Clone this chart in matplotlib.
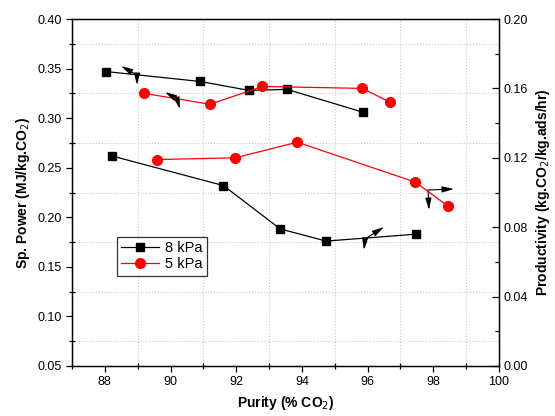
import numpy as np
import matplotlib.pyplot as plt
from matplotlib.ticker import MultipleLocator

plt.rcParams['font.family'] = ['Liberation Sans', 'DejaVu Sans']
plt.rcParams['font.size'] = 9

# Sp. Power (linke Achse)
pur_8_pow = [88.04, 90.90, 92.39, 93.55, 95.86]
pow_8 = [0.347, 0.337, 0.328, 0.329, 0.306]
pur_5_pow = [89.20, 91.20, 92.80, 95.84, 96.69]
pow_5 = [0.325, 0.314, 0.332, 0.330, 0.316]

# Productivity (rechte Achse)
pur_8_prod = [88.23, 91.61, 93.34, 94.74, 97.48]
prod_8 = [0.121, 0.104, 0.079, 0.072, 0.076]
pur_5_prod = [89.60, 91.97, 93.86, 97.45, 98.46]
prod_5 = [0.119, 0.120, 0.129, 0.106, 0.092]

fig = plt.figure(figsize=(5.55, 4.16), dpi=100)
ax = fig.add_axes([0.1297, 0.1202, 0.7693, 0.8341])
ax2 = ax.twinx()

ax.plot(pur_8_pow, pow_8, 'k-', marker='s', ms=6, lw=0.9, label='8 kPa')
ax.plot(pur_5_pow, pow_5, 'r-', marker='o', ms=7, lw=0.9, label='5 kPa')
ax2.plot(pur_8_prod, prod_8, 'k-', marker='s', ms=6, lw=0.9)
ax2.plot(pur_5_prod, prod_5, 'r-', marker='o', ms=7, lw=0.9)

ax.set_xlim(87, 100)
ax.set_ylim(0.05, 0.40)
ax2.set_ylim(0.0, 0.20)

ax.xaxis.set_major_locator(MultipleLocator(2))
ax.xaxis.set_minor_locator(MultipleLocator(1))
ax.yaxis.set_major_locator(MultipleLocator(0.05))
ax.yaxis.set_minor_locator(MultipleLocator(0.025))
ax2.yaxis.set_major_locator(MultipleLocator(0.04))
ax2.yaxis.set_minor_locator(MultipleLocator(0.02))
ax.set_xticks([88, 90, 92, 94, 96, 98, 100])
ax.set_xticklabels(['88', '90', '92', '94', '96', '98', '100'])
ax.set_yticks(np.arange(0.05, 0.401, 0.05))
ax.set_yticklabels(['%.2f' % v for v in np.arange(0.05, 0.401, 0.05)])
ax2.set_yticks(np.arange(0.0, 0.201, 0.04))
ax2.set_yticklabels(['%.2f' % v for v in np.arange(0.0, 0.201, 0.04)])

# Gitter auf den Nebenticks
ax.grid(which='minor', color='#c8c8c8', ls=':', lw=0.8)
ax.set_axisbelow(True)

ax.tick_params(which='major', direction='out', length=4, width=0.9, top=False)
ax.tick_params(which='minor', direction='inout', length=4, width=0.9, top=False)
ax2.tick_params(which='major', direction='in', length=5, width=0.9)
ax2.tick_params(which='minor', direction='in', length=3, width=0.9)
for sp in ax.spines.values():
    sp.set_linewidth(1.0)

ax.set_xlabel('Purity (% CO$_2$)', fontweight='bold', fontsize=10)
ax.set_ylabel('Sp. Power (MJ/kg.CO$_2$)', fontweight='bold', fontsize=10)
ax2.set_ylabel('Productivity (kg.CO$_2$/kg.ads/hr)', fontweight='bold', fontsize=10)

# Achsen-Pfeile
arr = dict(arrowstyle='-|>,head_width=0.18,head_length=0.7', color='k',
           lw=0.8, mutation_scale=10, shrinkA=0, shrinkB=0)
def pointer(a, x, y, dx1, dy1, dx2, dy2):
    a.annotate('', xy=(dx1, dy1), xytext=(x, y), xycoords='figure pixels',
               textcoords='figure pixels', arrowprops=arr)
    a.annotate('', xy=(dx2, dy2), xytext=(x, y), xycoords='figure pixels',
               textcoords='figure pixels', arrowprops=arr)

H = 416
pointer(ax, 137, H - 75, 121, H - 66, 137, H - 85)
pointer(ax, 177, H - 99, 165, H - 92, 180, H - 109)
pointer(ax, 365, H - 239, 384, H - 227, 364, H - 250)
pointer(ax, 428, H - 190, 454, H - 189, 429, H - 210)

leg = ax.legend(loc='upper left', bbox_to_anchor=(0.105, 0.372), fontsize=10.5,
                frameon=True, fancybox=False, edgecolor='k', handlelength=2.6,
                borderpad=0.3, labelspacing=0.15, handletextpad=0.4,
                borderaxespad=0)
leg.get_frame().set_linewidth(0.9)

fig.savefig('out.png', dpi=100)
